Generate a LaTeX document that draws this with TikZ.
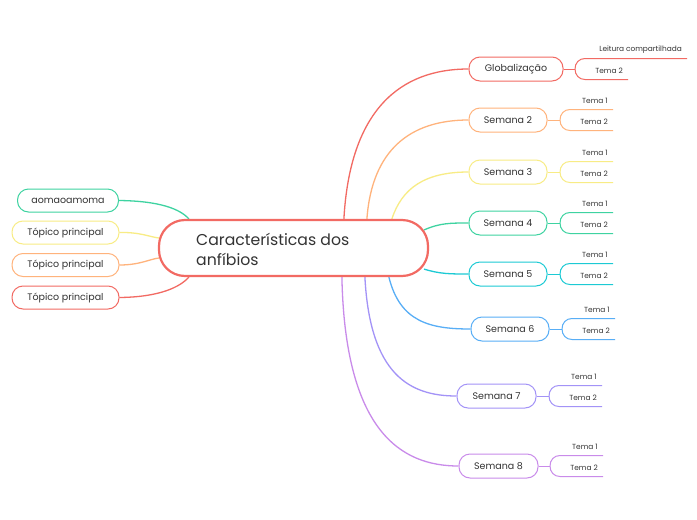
\documentclass[tikz,border=0pt]{standalone}
\usepackage{fontspec}
\setmainfont{Poppins}
\usetikzlibrary{calc}
\pgfdeclarelayer{bg}
\pgfsetlayers{bg,main}
\definecolor{cRed}{HTML}{F26A63}
\definecolor{cOrange}{HTML}{FFB37C}
\definecolor{cYellow}{HTML}{F8EC85}
\definecolor{cGreen}{HTML}{3ED3A1}
\definecolor{cCyan}{HTML}{1CCAD4}
\definecolor{cBlue}{HTML}{58AEF6}
\definecolor{cViolet}{HTML}{A393F7}
\definecolor{cPurple}{HTML}{C98BEA}
\definecolor{txt}{HTML}{333333}
\tikzset{
  conn/.style={draw=#1, line width=1.3pt},
  subconn/.style={draw=#1, line width=1pt},
  box/.style={draw=#1, line width=1pt, fill=white, rounded corners=11pt, minimum height=24pt,
    inner sep=0pt, text=txt, font=\fontsize{9.5}{11}\selectfont},
  leaf/.style={text=txt, font=\fontsize{7.4}{9}\selectfont, inner sep=0pt, anchor=east},
}
% #1 parent name, #2 colour, #3 junction x, #4 y, #5 upper end x, #6 lower end x, #7 upper text, #8 lower text
\newcommand{\mkfork}[8]{%
  \coordinate (#1j) at (#3,#4);
  \coordinate (#1u) at (#5,#4-10.5);
  \coordinate (#1l) at (#6,#4+10.5);
  \draw[subconn=#2] (#1.east) -- (#1j);
  \draw[subconn=#2] (#1j) .. controls (#3,#4-6) and (#3+4,#4-10.5) .. (#3+10,#4-10.5) -- (#1u);
  \draw[subconn=#2] (#1j) .. controls (#3,#4+6) and (#3+4,#4+10.5) .. (#3+10,#4+10.5) -- (#1l);
  \node[leaf] (#1t1) at ($(#1u)+(-5,-8.5)$) {#7};
  \node[leaf] (#1t2) at ($(#1l)+(-5,-8.5)$) {#8};
}
\begin{document}
\begin{tikzpicture}[x=1pt,y=-1pt]
\begin{pgfonlayer}{bg}
\fill[white] (0,0) rectangle (697,520);
\end{pgfonlayer}
\useasboundingbox (0,0) rectangle (697,520);

% central node
\node[draw=cRed, line width=2.2pt, fill=white, rounded corners=26pt, minimum width=269pt,
  minimum height=56pt, inner sep=0pt] (c) at (293.5,248) {};
\node[anchor=west, align=left, text=txt, font=\fontsize{15.7}{20}\selectfont, inner sep=0pt] (ct) at (196,249)
  {Características dos\\anfíbios};

% right nodes
\node[box=cRed, minimum width=94pt] (g) at (516,69) {Globalização};
\node[box=cOrange, minimum width=78pt] (s2) at (508,120) {Semana 2};
\node[box=cYellow, minimum width=78pt] (s3) at (508,172) {Semana 3};
\node[box=cGreen, minimum width=78pt] (s4) at (508,223) {Semana 4};
\node[box=cCyan, minimum width=78pt] (s5) at (508,274) {Semana 5};
\node[box=cBlue, minimum width=78pt] (s6) at (510,329) {Semana 6};
\node[box=cViolet, minimum width=79pt] (s7) at (496.5,396) {Semana 7};
\node[box=cPurple, minimum width=79pt] (s8) at (498.5,466) {Semana 8};

% left nodes
\node[box=cGreen, minimum width=101pt, minimum height=23pt] (l1) at (68,200.5) {aomaoamoma};
\node[box=cYellow, minimum width=107pt, minimum height=23pt] (l2) at (65.5,232.5) {Tópico principal};
\node[box=cOrange, minimum width=107pt, minimum height=23pt] (l3) at (65.5,265) {Tópico principal};
\node[box=cRed, minimum width=107pt, minimum height=23pt] (l4) at (65.5,297.5) {Tópico principal};

% anchor points on the central node
\coordinate (cR) at ($(c.north west)+(186,0)$);
\coordinate (cO) at ($(c.north west)+(209,0)$);
\coordinate (cY) at ($(c.north west)+(234,0)$);
\coordinate (cG) at ($(c.north east)+(-5,11)$);
\coordinate (cC) at ($(c.south east)+(-5,-8)$);
\coordinate (cB) at ($(c.south west)+(231,0)$);
\coordinate (cV) at ($(c.south west)+(207,0)$);
\coordinate (cP) at ($(c.south west)+(184,0)$);
\coordinate (cL1) at ($(c.north west)+(31,0)$);
\coordinate (cL2) at ($(c.west)+(1,-10)$);
\coordinate (cL3) at ($(c.west)+(1,10)$);
\coordinate (cL4) at ($(c.south west)+(31,0)$);

\begin{pgfonlayer}{bg}
\draw[conn=cRed] (cR) .. controls (350,110) and (400,69) .. (g.west);
\draw[conn=cOrange] (cO) .. controls (372,150) and (410,120) .. (s2.west);
\draw[conn=cYellow] (cY) .. controls (402,188) and (425,172) .. (s3.west);
\draw[conn=cGreen] (cG) .. controls (440,223) and (450,223) .. (s4.west);
\draw[conn=cCyan] (cC) .. controls (440,274) and (450,274) .. (s5.west);
\draw[conn=cBlue] (cB) .. controls (400,322) and (430,329) .. (s6.west);
\draw[conn=cViolet] (cV) .. controls (370,375) and (410,396) .. (s7.west);
\draw[conn=cPurple] (cP) .. controls (345,430) and (400,466) .. (s8.west);

\draw[conn=cGreen] (l1.east) .. controls (160,201) and (180,209) .. (cL1);
\draw[conn=cYellow] (l2.east) .. controls (140,232) and (150,237) .. (cL2);
\draw[conn=cOrange] (l3.east) .. controls (140,265) and (150,259) .. (cL3);
\draw[conn=cRed] (l4.east) .. controls (160,297) and (180,287) .. (cL4);
\end{pgfonlayer}

% forks
\mkfork{g}{cRed}{575}{69}{687}{628}{Leitura compartilhada}{Tema 2}
\mkfork{s2}{cOrange}{560}{120}{613}{613}{Tema 1}{Tema 2}
\mkfork{s3}{cYellow}{560}{172}{613}{613}{Tema 1}{Tema 2}
\mkfork{s4}{cGreen}{560}{223}{613}{613}{Tema 1}{Tema 2}
\mkfork{s5}{cCyan}{560}{274}{613}{613}{Tema 1}{Tema 2}
\mkfork{s6}{cBlue}{562}{329}{615}{615}{Tema 1}{Tema 2}
\mkfork{s7}{cViolet}{549}{396}{602}{602}{Tema 1}{Tema 2}
\mkfork{s8}{cPurple}{550}{466}{603}{603}{Tema 1}{Tema 2}
\end{tikzpicture}
\end{document}
